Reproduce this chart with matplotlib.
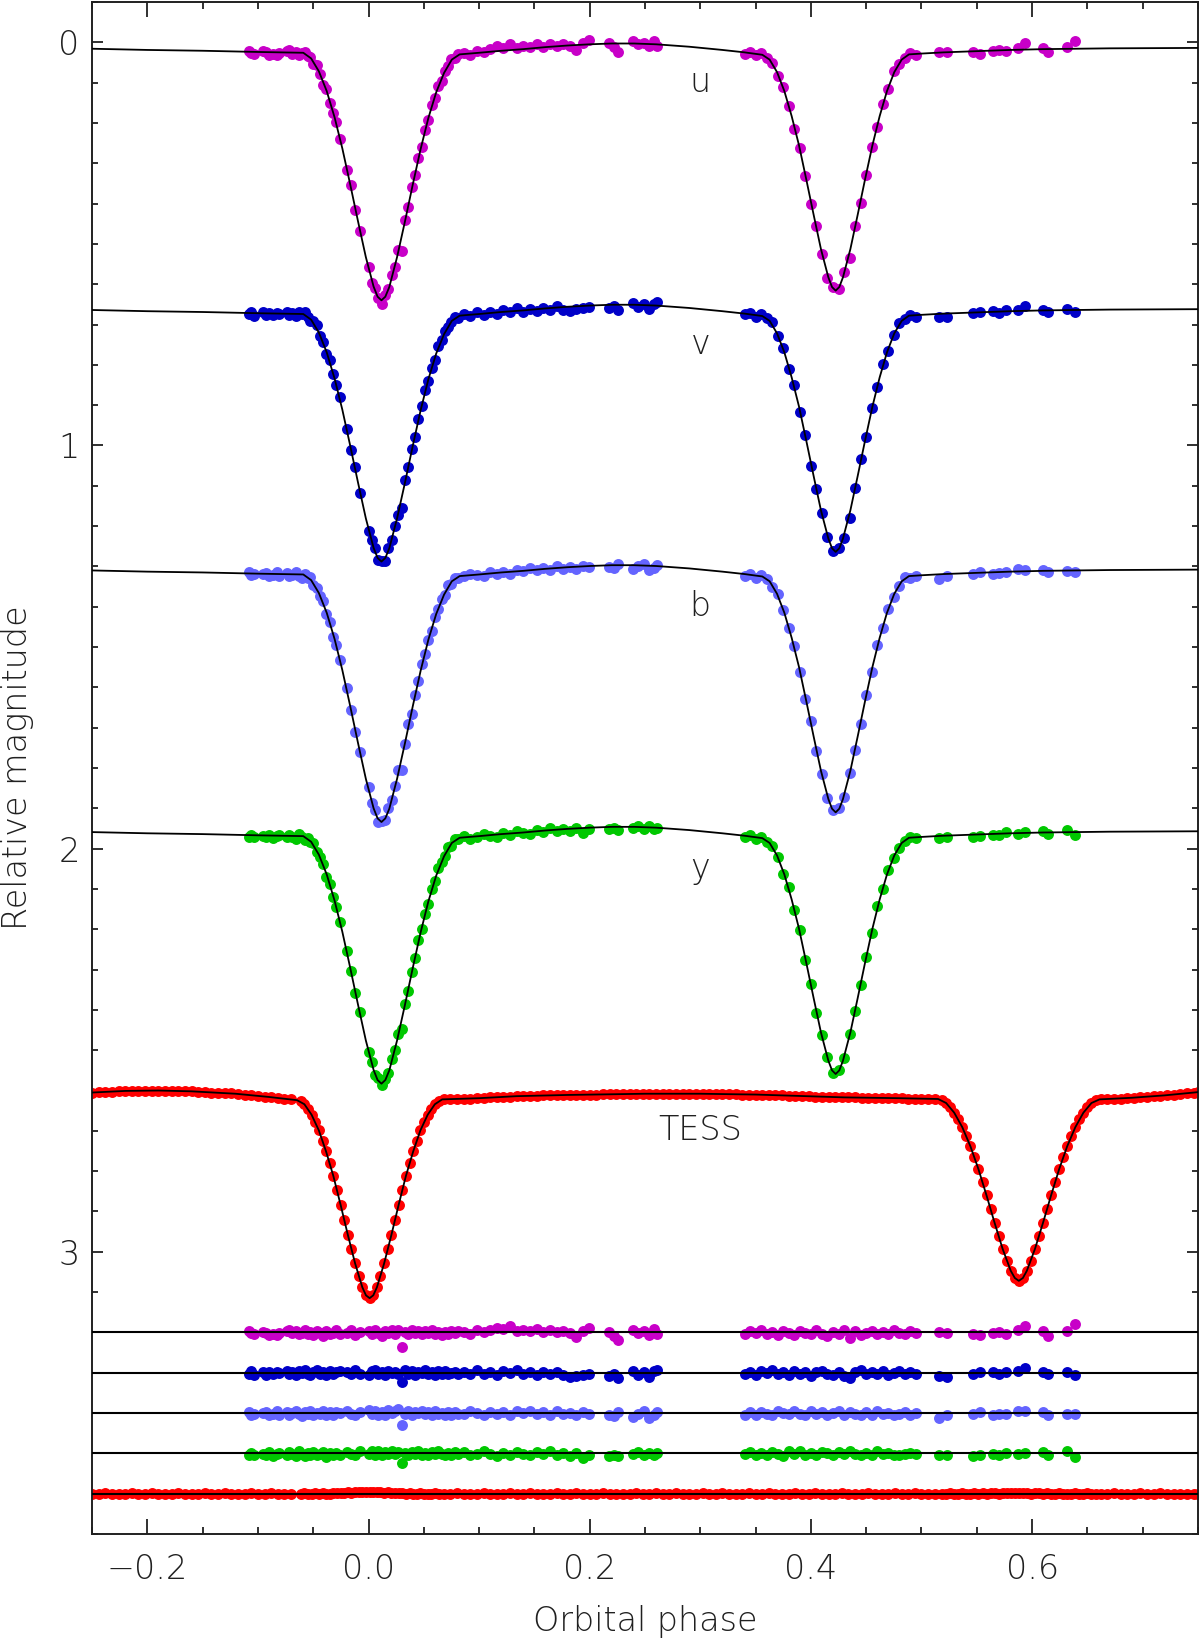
import numpy as np
import matplotlib
matplotlib.use('Agg')
from matplotlib import pyplot as plt
from matplotlib.ticker import MultipleLocator

# all magnitudes below are in millimag (plotted as mag = value / 1000)

# uvby observations, shared phases (simultaneous Stromgren photometry)
uvby_phase = [-0.1085, -0.1060, -0.1035,
              -0.0950, -0.0925, -0.0900, -0.0860, -0.0830, -0.0810,
              -0.0740, -0.0715, -0.0690, -0.0660, -0.0630, -0.0600, -0.0575, -0.0550, -0.0525,
              -0.0500, -0.0470, -0.0440, -0.0410, -0.0380, -0.0350, -0.0320, -0.0290, -0.0260,
              -0.0195, -0.0160, -0.0120, -0.0075,
              0.000, 0.003, 0.006, 0.009, 0.012, 0.015, 0.018, 0.021, 0.024, 0.027, 0.030, 0.033, 0.036, 0.039,
              0.042, 0.045, 0.048, 0.051, 0.054, 0.057, 0.060, 0.063, 0.066, 0.069, 0.072, 0.075, 0.078, 0.081,
              0.086, 0.092, 0.098, 0.104, 0.110, 0.116, 0.122, 0.128, 0.134, 0.140,
              0.146, 0.152, 0.158, 0.164, 0.170, 0.176, 0.182, 0.188, 0.194, 0.199,
              0.217, 0.222, 0.226,
              0.239, 0.244, 0.249, 0.254, 0.258, 0.261,
              0.340, 0.345, 0.350, 0.355, 0.360, 0.365, 0.370, 0.375, 0.380, 0.385, 0.390, 0.395, 0.400, 0.405,
              0.410, 0.415, 0.420, 0.425, 0.430, 0.435, 0.440, 0.445, 0.450, 0.455, 0.460, 0.465, 0.470, 0.475,
              0.480, 0.485, 0.490, 0.495,
              0.516, 0.523, 0.547, 0.553, 0.565, 0.570, 0.576, 0.587, 0.594, 0.610, 0.614, 0.632, 0.639]

u_obs = [21, 26, 28,
         22, 25, 31, 28, 32, 27,
         21, 20, 28, 23, 31, 27, 23, 35, 36, 53, 57, 79, 105, 117, 150, 175, 198, 239,
         316, 354, 417, 467,
         557, 596, 609, 635, 648, 628, 613, 578, 557, 515, 517, 442, 408, 360,
         328, 286, 259, 217, 192, 155, 138, 108, 95, 71, 60, 42, 38, 28,
         27, 31, 21, 24, 17, 10, 13, 4, 14, 10, 12, 5, 11, 5, 9, 5, 10, 19, 3, -5,
         3, 11, 23,
         -2, 5, 1, 10, -3, 8,
         28, 23, 31, 26, 40, 51, 84, 110, 158, 215, 261, 331, 400, 455,
         526, 585, 607, 613, 569, 534, 456, 398, 329, 259, 211, 153, 115, 71,
         53, 40, 27, 31,
         23, 25, 25, 29, 21, 18, 22, 13, 2, 14, 25, 12, -4]

v_obs = [674, 668, 678,
         669, 677, 672, 677, 671, 674,
         668, 677, 672, 680, 670, 675, 670, 682, 691, 692, 702, 729, 743, 774, 789, 824, 851, 880,
         959, 1011, 1053, 1119,
         1213, 1235, 1255, 1284, 1286, 1286, 1255, 1234, 1199, 1172, 1154, 1086, 1054, 1010,
         980, 934, 903, 863, 841, 807, 789, 754, 739, 715, 707, 694, 682, 684,
         674, 678, 668, 677, 669, 675, 665, 668, 660, 668, 661, 667, 660, 663, 655, 663, 666, 662, 659, 656,
         659, 655, 663,
         647, 657, 650, 662, 648, 645,
         675, 672, 682, 675, 685, 695, 729, 759, 811, 851, 917, 974, 1050, 1108,
         1167, 1226, 1262, 1254, 1230, 1181, 1105, 1034, 979, 908, 856, 798, 766, 726,
         696, 687, 676, 681,
         681, 682, 672, 668, 667, 671, 664, 663, 654, 663, 668, 661, 670]

b_obs = [1315, 1322, 1320,
         1319, 1316, 1324, 1322, 1315, 1325,
         1317, 1324, 1321, 1315, 1323, 1328, 1319, 1328, 1326, 1345, 1354, 1374, 1387, 1419, 1438, 1474, 1495, 1531,
         1602, 1655, 1710, 1760,
         1846, 1888, 1904, 1933, 1932, 1930, 1899, 1880, 1844, 1805, 1806, 1740, 1692, 1665,
         1618, 1584, 1543, 1518, 1482, 1461, 1425, 1406, 1382, 1371, 1347, 1343, 1328, 1329,
         1325, 1318, 1321, 1324, 1314, 1319, 1313, 1319, 1308, 1312, 1304, 1310, 1304, 1309, 1298, 1306, 1301, 1306, 1298, 1301,
         1301, 1305, 1294,
         1307, 1300, 1294, 1310, 1303, 1296,
         1323, 1319, 1329, 1322, 1332, 1352, 1368, 1408, 1454, 1497, 1561, 1629, 1683, 1758,
         1815, 1874, 1904, 1899, 1873, 1812, 1755, 1692, 1619, 1561, 1495, 1452, 1405, 1375,
         1348, 1327, 1329, 1324,
         1331, 1324, 1318, 1313, 1318, 1317, 1315, 1307, 1308, 1309, 1315, 1312, 1313]

y_obs = [1970, 1965, 1972,
         1969, 1971, 1965, 1974, 1969, 1966,
         1972, 1966, 1971, 1975, 1964, 1970, 1978, 1973, 1984, 1986, 2009, 2022, 2037, 2071, 2088, 2121, 2145, 2182,
         2253, 2303, 2357, 2406,
         2505, 2529, 2562, 2569, 2586, 2572, 2556, 2522, 2499, 2459, 2448, 2385, 2352, 2306,
         2272, 2227, 2200, 2163, 2137, 2100, 2080, 2047, 2033, 2018, 1997, 1993, 1976, 1977,
         1969, 1975, 1970, 1963, 1968, 1971, 1962, 1965, 1957, 1961, 1963, 1954, 1958, 1949, 1956, 1951, 1957, 1948, 1961, 1952,
         1952, 1950, 1953,
         1948, 1943, 1952, 1945, 1952, 1948,
         1970, 1966, 1975, 1972, 1984, 1993, 2022, 2062, 2095, 2153, 2202, 2276, 2337, 2407,
         2462, 2517, 2557, 2549, 2519, 2459, 2403, 2339, 2268, 2209, 2143, 2100, 2054, 2024,
         1998, 1980, 1971, 1974,
         1973, 1971, 1971, 1969, 1965, 1967, 1960, 1963, 1959, 1956, 1964, 1953, 1967]

# O-C residuals (millimag)
u_res = [-3, 2, 4,
         -2, 1, 6, 3, 7, 2,
         -4, -6, 2, -3, 5, 1, -5, 3, -2, 6, -4, 2, 8, -3, 4, 1, -6, 3,
         2, -5, 6, -2,
         -3, 5, -6, 2, 8, -4, 1, -7, 3, -5, 35, -2, 4, -6,
         1, -3, 5, -4, 2, -6, 3, -2, 6, -1, 4, -3, 2, -4,
         -2, 3, -5, -1, -6, -12, -8, -15, -4, -7, -3, -9, -2, -6, -1, -4, 2, 12, -3, -10,
         0, 8, 20,
         -5, 2, -3, 6, -8, 3,
         3, -4, 2, -5, 4, -2, 6, -3, 1, 7, -4, 2, 5, -6,
         3, 9, -2, 4, -5, 13, -3, 6, 2, -4, 5, -2, 3, -6,
         1, 4, -3, 2,
         -2, 1, 3, 7, 1, -2, 3, -6, -16, -3, 8, -4, -20]

v_res = [2, -4, 6,
         -3, 5, -1, 4, -2, 1,
         -5, 3, -2, 6, -4, 1, -6, 2, 5, -3, -7, 4, -2, 6, -5, 2, -1, -4,
         -3, 4, -6, 2,
         5, -4, -8, 3, -2, 6, -5, 1, -3, 4, 24, -6, 2, -4,
         5, -3, 1, -6, 3, -2, 6, -4, 2, -5, 3, 1, -2, 4,
         -3, 2, -6, 4, -2, 5, -4, 1, -6, 3, -2, 5, -1, 4, -3, 6, 10, 7, 5, 3,
         8, 4, 12,
         -4, 6, -2, 10, -5, -8,
         2, -3, 5, -4, 1, -6, 3, -2, 6, -5, 4, -3, 7, -1,
         -4, 2, 5, -3, 8, 12, -2, -6, 4, -3, 2, -5, 6, 1,
         -4, 3, -2, 4,
         8, 10, 2, -2, -1, 3, -3, -4, -12, -2, 3, -3, 6]

b_res = [-3, 4, 2,
         1, -2, 5, 3, -4, 6,
         -2, 4, 1, -5, 3, 8, -3, 2, -6, 4, -1, 3, -4, 5, -2, 6, -3, 1,
         -6, 2, 5, -3,
         -8, 3, -5, 6, -2, 4, -7, 1, -4, -9, 30, 2, -6, 5,
         -3, 1, -5, 3, -2, 6, -4, 2, -1, 5, -3, 4, -2, 3,
         2, -4, 1, 5, -3, 3, -2, 6, -4, 1, -5, 2, -3, 4, -6, 3, -1, 5, -2, 2,
         4, 8, -3,
         10, 3, -4, 12, 4, -3,
         4, -2, 6, -3, 2, 5, -4, 1, 3, -5, 2, 6, -6, 3,
         -2, 4, 1, -4, 5, -3, 2, 6, -2, 4, -5, 3, -1, 4,
         2, -3, 5, 1,
         12, 6, 2, -3, 4, 3, 2, -6, -4, -2, 4, 2, 3]

y_res = [3, -2, 5,
         2, 4, -3, 6, 1, -2,
         4, -3, 2, 6, -5, 1, 7, -2, 3, -4, 5, 2, -3, 8, -1, 4, -2, 3,
         -4, 1, 3, -6,
         2, -5, 4, -7, 3, -3, 1, -6, 2, -4, 23, -2, 5, -3,
         2, -5, 3, -1, 4, -4, 2, -6, 1, 3, -2, 5, -3, 2,
         -3, 4, 1, -5, 2, 6, -2, 3, -4, 1, 5, -3, 2, -5, 3, -1, 6, -2, 12, 4,
         6, 4, 7,
         2, -3, 5, -2, 4, 0,
         2, -4, 3, -2, 5, -3, 1, 6, -5, 2, -6, 4, -1, 3,
         -4, -2, 5, -3, 2, -5, 1, 4, -2, 3, -6, 2, -1, 4,
         3, 1, -2, 2,
         5, 4, 6, 4, 2, 4, -2, 1, -2, -4, 4, -6, 8]

# fitted model curves for uvby
model_phase = [-0.25, -0.20, -0.15, -0.10,
               -0.0590, -0.0519, -0.0449, -0.0378, -0.0307, -0.0237, -0.0166, -0.0095, -0.0024, 0.0046,
               0.0082, 0.0117, 0.0152, 0.0188, 0.0258, 0.0329, 0.0400, 0.0471, 0.0541, 0.0612, 0.0683,
               0.0753, 0.0824,
               0.10, 0.12, 0.14, 0.16, 0.18, 0.20, 0.22, 0.24, 0.26, 0.29, 0.32, 0.34,
               0.3561, 0.3627, 0.3694, 0.3760, 0.3826, 0.3893, 0.3959, 0.4025, 0.4091, 0.4158,
               0.4191, 0.4224, 0.4257, 0.4290, 0.4357, 0.4423, 0.4489, 0.4556, 0.4622, 0.4688, 0.4754,
               0.4821, 0.4887,
               0.50, 0.52, 0.55, 0.58, 0.61, 0.64, 0.67, 0.75]

u_model = [16, 19, 21, 24,
           26, 40, 72, 121, 186, 263, 352, 444, 533, 606, 631, 640, 631, 607, 533, 445, 353, 265, 188, 124, 76, 43, 30,
           26, 21, 17, 12, 8, 5, 3, 3, 5, 11, 19, 25,
           31, 43, 74, 121, 183, 256, 341, 428, 513, 583, 607, 616, 607, 583, 513, 428, 341, 256, 183, 121, 74, 43, 30,
           28, 25, 22, 19, 17, 16, 15, 14]

v_model = [664, 667, 669, 672,
           674, 688, 720, 769, 834, 911, 1000, 1092, 1181, 1254, 1279, 1288, 1279, 1255, 1181, 1093, 1001, 913, 836,
           772, 724, 691, 678,
           674, 669, 665, 660, 656, 653, 651, 651, 653, 659, 667, 673,
           679, 691, 722, 769, 831, 904, 989, 1076, 1161, 1231, 1255, 1264, 1255, 1231, 1161, 1076, 989, 904, 831,
           769, 722, 691, 678,
           676, 673, 670, 667, 665, 664, 663, 662]

b_model = [1310, 1313, 1315, 1318,
           1320, 1334, 1366, 1415, 1480, 1557, 1646, 1738, 1827, 1900, 1925, 1934, 1925, 1901, 1827, 1739, 1647,
           1559, 1482, 1418, 1370, 1337, 1324,
           1320, 1315, 1311, 1306, 1302, 1299, 1297, 1297, 1299, 1305, 1313, 1319,
           1325, 1337, 1368, 1415, 1477, 1550, 1635, 1722, 1807, 1877, 1901, 1910, 1901, 1877, 1807, 1722, 1635,
           1550, 1477, 1415, 1368, 1337, 1324,
           1322, 1319, 1316, 1313, 1311, 1310, 1309, 1308]

y_model = [1959, 1962, 1964, 1967,
           1969, 1983, 2015, 2064, 2129, 2206, 2295, 2387, 2476, 2549, 2574, 2583, 2574, 2550, 2476, 2388, 2296,
           2208, 2131, 2067, 2019, 1986, 1973,
           1969, 1964, 1960, 1955, 1951, 1948, 1946, 1946, 1948, 1954, 1962, 1968,
           1974, 1986, 2017, 2064, 2126, 2199, 2284, 2371, 2456, 2526, 2550, 2559, 2550, 2526, 2456, 2371, 2284,
           2199, 2126, 2064, 2017, 1986, 1973,
           1971, 1968, 1965, 1962, 1960, 1959, 1958, 1957]

# TESS light curve (phase-binned)
tess_phase = [-0.250, -0.244, -0.238, -0.232, -0.226, -0.220, -0.214, -0.208, -0.202, -0.196, -0.190,
              -0.184, -0.178, -0.172, -0.166, -0.160, -0.154, -0.148, -0.142, -0.136, -0.130, -0.124,
              -0.118, -0.112, -0.106, -0.100, -0.094, -0.088, -0.082, -0.076, -0.070,
              -0.0613, -0.0580, -0.0548, -0.0515, -0.0482, -0.0449, -0.0416, -0.0384, -0.0351, -0.0318,
              -0.0285, -0.0252, -0.0220, -0.0187, -0.0154, -0.0121, -0.0088, -0.0056, -0.0023, 0.0010,
              0.0043, 0.0076, 0.0108, 0.0141, 0.0174, 0.0207, 0.0240, 0.0272, 0.0305, 0.0338,
              0.0371, 0.0404, 0.0436, 0.0469, 0.0502, 0.0535, 0.0568, 0.0600, 0.0633,
              0.068, 0.074, 0.080, 0.086, 0.092, 0.098, 0.104, 0.110, 0.116, 0.122,
              0.128, 0.134, 0.140, 0.146, 0.152, 0.158, 0.164, 0.170, 0.176, 0.182,
              0.188, 0.194, 0.200, 0.206, 0.212, 0.218, 0.224, 0.230, 0.236, 0.242,
              0.248, 0.254, 0.260, 0.266, 0.272, 0.278, 0.284, 0.290, 0.296, 0.302,
              0.308, 0.314, 0.320, 0.326, 0.332, 0.338, 0.344, 0.350, 0.356, 0.362,
              0.368, 0.374, 0.380, 0.386, 0.392, 0.398, 0.404, 0.410, 0.416, 0.422,
              0.428, 0.434, 0.440, 0.446, 0.452, 0.458, 0.464, 0.470, 0.476, 0.482,
              0.488, 0.494, 0.500, 0.506, 0.512,
              0.5187, 0.5223, 0.5260, 0.5296, 0.5333, 0.5369, 0.5406, 0.5442, 0.5479, 0.5515,
              0.5552, 0.5588, 0.5625, 0.5661, 0.5698, 0.5734, 0.5771, 0.5807, 0.5844, 0.5880,
              0.5917, 0.5953, 0.5990, 0.6026, 0.6063, 0.6099, 0.6136, 0.6172, 0.6209, 0.6245,
              0.6282, 0.6318, 0.6355, 0.6391, 0.6428, 0.6464, 0.6501, 0.6537, 0.6574,
              0.662, 0.668, 0.674, 0.680, 0.686, 0.692, 0.698, 0.704, 0.710, 0.716, 0.722,
              0.728, 0.734, 0.740, 0.746, 0.750]

tess_obs = [2605, 2604, 2603, 2603, 2602, 2601, 2601, 2600, 2600, 2600, 2600,
            2600, 2601, 2601, 2601, 2602, 2603, 2604, 2605, 2606, 2607, 2607,
            2609, 2610, 2612, 2613, 2615, 2617, 2619, 2620, 2622,
            2626, 2634, 2645, 2660, 2677, 2699, 2724, 2751, 2780, 2812,
            2847, 2884, 2921, 2958, 2994, 3029, 3061, 3088, 3108, 3115,
            3108, 3088, 3061, 3029, 2994, 2958, 2921, 2884, 2847, 2812,
            2780, 2751, 2724, 2699, 2677, 2660, 2645, 2634, 2626,
            2622, 2621, 2621, 2620, 2620, 2619, 2618, 2617, 2617, 2616,
            2615, 2614, 2614, 2613, 2613, 2612, 2612, 2612, 2611, 2611,
            2611, 2610, 2610, 2610, 2609, 2609, 2609, 2609, 2608, 2608,
            2608, 2608, 2608, 2608, 2608, 2608, 2608, 2608, 2608, 2608,
            2608, 2609, 2609, 2609, 2609, 2610, 2610, 2610, 2611, 2611,
            2612, 2612, 2613, 2613, 2614, 2614, 2615, 2615, 2616, 2616,
            2617, 2617, 2617, 2618, 2618, 2618, 2618, 2619, 2619, 2619,
            2620, 2620, 2620, 2621, 2621,
            2624, 2631, 2641, 2655, 2671, 2691, 2713, 2738, 2765, 2795,
            2826, 2860, 2894, 2928, 2962, 2993, 3022, 3047, 3065, 3072,
            3065, 3047, 3022, 2993, 2962, 2928, 2894, 2860, 2826, 2795,
            2765, 2738, 2713, 2691, 2671, 2655, 2641, 2631, 2624,
            2622, 2621, 2620, 2620, 2619, 2618, 2616, 2615, 2614, 2613, 2612,
            2610, 2608, 2607, 2605, 2604]

tess_res = [1, 0, -1, 1, 0, 2, -1, 0, 1, -1, 0,
            1, 0, -1, 2, 0, 1, -1, 0, 1, -1, 0,
            2, 0, -1, 1, 0, -1, 1, 0, 1,
            0, -1, 0, 1, -1, 0, -1, 1, 0, -1,
            -2, -1, -2, -3, -2, -3, -4, -3, -5, -4,
            -3, -4, -3, -2, -3, -2, -1, -2, -1, 0,
            -1, 1, 0, -1, 0, 1, 0, -1, 1,
            0, 1, -1, 0, 1, 0, -1, 1, 0, 2,
            -1, 0, 1, -1, 0, 1, 0, -1, 0, 1,
            -1, 0, 1, 0, -1, 1, 0, 2, 0, -1,
            1, 0, -1, 0, 1, -1, 0, 1, 0, -1,
            0, 1, -1, 0, 2, 0, -1, 1, 0, -1,
            0, 1, 0, -1, 1, 0, -1, 0, 1, 0,
            -1, 1, 0, 2, -1, 0, 1, 0, -1, 1,
            0, -1, 0, 1, 0,
            1, 0, -1, 0, 1, -1, 0, 1, -1, 0,
            -1, 0, -2, -1, 0, -1, -2, -1, -2, -1,
            -2, -1, 0, -1, -2, 0, -1, 0, 1, -1,
            0, 1, 0, -1, 1, 0, -1, 0, 1,
            0, 1, -1, 0, 1, 0, -1, 1, 0, -1, 0,
            1, 0, 2, 1, 0]

tess_model_phase = [-0.25, -0.22, -0.19, -0.16, -0.12, -0.09,
                    -0.0646, -0.0580, -0.0515, -0.0449, -0.0384, -0.0318, -0.0252, -0.0187, -0.0121,
                    -0.0056, -0.0023, 0.0010, 0.0043, 0.0076, 0.0141, 0.0207, 0.0272, 0.0338, 0.0404,
                    0.0469, 0.0535, 0.0600, 0.0666,
                    0.10, 0.134, 0.18, 0.25, 0.30, 0.35, 0.43, 0.48,
                    0.5150, 0.5223, 0.5296, 0.5369, 0.5442, 0.5515, 0.5588, 0.5661, 0.5734, 0.5807,
                    0.5844, 0.5880, 0.5917, 0.5953, 0.6026, 0.6099, 0.6172, 0.6245, 0.6318, 0.6391,
                    0.6464, 0.6537, 0.6610,
                    0.69, 0.72, 0.75]

tess_model = [2605, 2601, 2600, 2602, 2608, 2616,
              2624, 2634, 2660, 2699, 2751, 2812, 2884, 2958, 3029,
              3088, 3108, 3115, 3108, 3088, 3029, 2958, 2884, 2812, 2751,
              2699, 2660, 2634, 2622,
              2619, 2614, 2611, 2608, 2608, 2610, 2617, 2619,
              2621, 2631, 2655, 2691, 2738, 2795, 2860, 2928, 2993, 3047,
              3065, 3072, 3065, 3047, 2993, 2928, 2860, 2795, 2738, 2691,
              2655, 2631, 2622,
              2618, 2612, 2604]

band_names = ['u', 'v', 'b', 'y', 'TESS']
band_colors = ['#c800c8', '#0000c8', '#6464ff', '#00c800', '#ff0000']

plt.rcParams['font.family'] = ['DejaVu Sans']
plt.rcParams['font.weight'] = 200
plt.rcParams['axes.labelweight'] = 200
plt.rcParams['font.size'] = 24

fig = plt.figure(figsize=(12, 16.41), dpi=100)
ax = fig.add_axes([0.0767, 0.0652, 0.9216, 0.9336])

ms = 62
res_levels = [3.2, 3.3, 3.4, 3.5, 3.6]
label_y = [0.10, 0.75, 1.40, 2.05, 2.70]

obs_sets = [u_obs, v_obs, b_obs, y_obs]
res_sets = [u_res, v_res, b_res, y_res]
mod_sets = [u_model, v_model, b_model, y_model]

for i in range(4):
    ax.scatter(uvby_phase, np.array(obs_sets[i]) / 1000., s=ms, c=band_colors[i], lw=0, zorder=2)
    ax.plot(model_phase, np.array(mod_sets[i]) / 1000., color='k', lw=1.3, zorder=3)
    ax.scatter(uvby_phase, res_levels[i] + np.array(res_sets[i]) / 1000., s=ms, c=band_colors[i],
               lw=0, zorder=2)
    ax.axhline(res_levels[i], color='k', lw=1.5, zorder=3)

ax.scatter(tess_phase, np.array(tess_obs) / 1000., s=ms, c=band_colors[4], lw=0, zorder=2)
ax.plot(tess_model_phase, np.array(tess_model) / 1000., color='k', lw=1.3, zorder=3)
ax.scatter(tess_phase, res_levels[4] + np.array(tess_res) / 1000., s=ms, c=band_colors[4], lw=0, zorder=2)
ax.axhline(res_levels[4], color='k', lw=1.5, zorder=3)

for name, ly in zip(band_names, label_y):
    ax.text(0.30, ly, name, ha='center', va='center', fontsize=24, color='#202020', zorder=4)

ax.set_xlim(-0.25, 0.75)
ax.set_ylim(3.7, -0.1)
ax.xaxis.set_major_locator(MultipleLocator(0.2))
ax.xaxis.set_minor_locator(MultipleLocator(0.05))
ax.yaxis.set_major_locator(MultipleLocator(1))
ax.yaxis.set_minor_locator(MultipleLocator(0.1))

ax.tick_params(which='both', direction='in', top=True, right=True, width=1.3, labelsize=24,
               colors='#202020')
ax.tick_params(axis='x', which='major', length=11, pad=14)
ax.tick_params(axis='x', which='minor', length=5)
ax.tick_params(axis='y', which='major', length=8, pad=9)
ax.tick_params(axis='y', which='minor', length=4)
for sp in ax.spines.values():
    sp.set_linewidth(1.4)
    sp.set_color('#202020')

ax.set_xlabel('Orbital phase', fontsize=24, color='#202020', fontweight=200)
ax.set_ylabel('Relative magnitude', fontsize=24, color='#202020', fontweight=200)
ax.xaxis.label.set_va('center')
ax.yaxis.label.set_va('center')
ax.xaxis.set_label_coords(0.5, -0.057)
ax.yaxis.set_label_coords(-0.067, 0.5)

fig.savefig('out.png', dpi=100)
